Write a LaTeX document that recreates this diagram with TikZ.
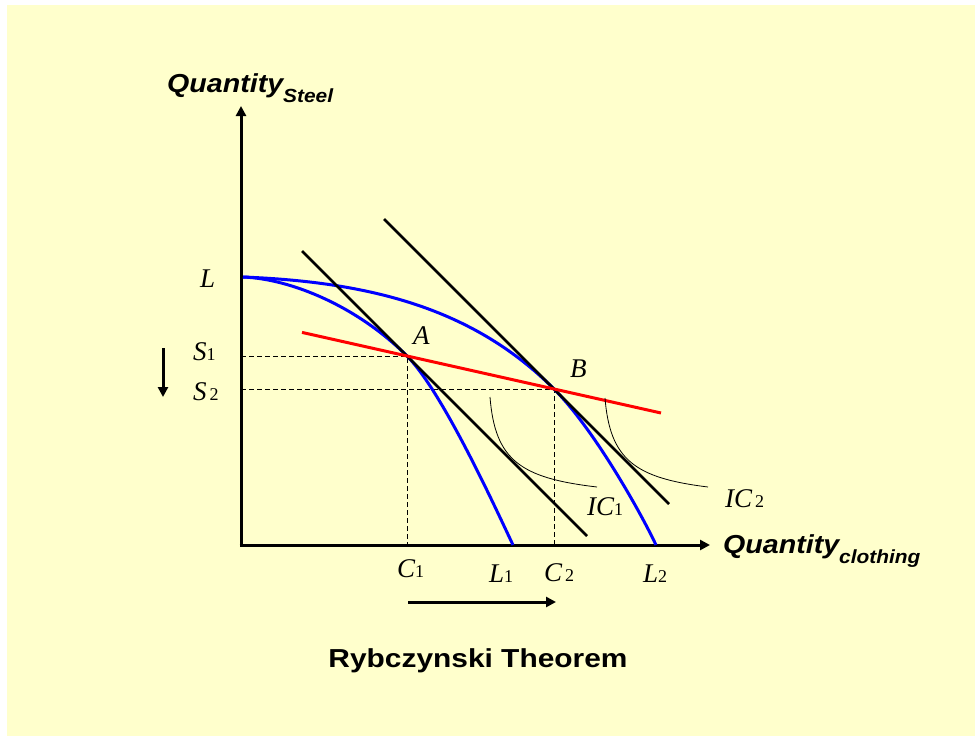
\documentclass[tikz,border=0pt]{standalone}
\usepackage{fontspec}
\setmainfont{Liberation Serif}
\setsansfont{Liberation Sans}
\usepackage{xcolor}
\usetikzlibrary{arrows.meta}
\definecolor{slidebg}{HTML}{FFFFCC}
\newcommand{\lblidx}[1]{{\upshape\fontsize{18}{18}\selectfont #1}}
\newcommand{\axtitle}[2]{\scalebox{1.1}[1]{{\fontsize{26}{26}\selectfont #1}\raisebox{-10pt}{\fontsize{19}{19}\selectfont #2}}}
\tikzset{
  axis/.style={draw=black, line width=3pt, -{Triangle[length=10pt,width=10pt]}},
  movearrow/.style={draw=black, line width=3pt, -{Triangle[length=10pt,width=10pt]}},
  ppf/.style={draw=blue, line width=3pt},
  budget/.style={draw=black, line width=2.6pt},
  price/.style={draw=red, line width=3pt},
  icurve/.style={draw=black, line width=0.8pt},
  guide/.style={draw=black, line width=0.9pt, dash pattern=on 5pt off 3pt},
  lbl/.style={font=\fontsize{27}{27}\selectfont\itshape, inner sep=0pt, anchor=base west},
  sanslbl/.style={font=\sffamily\bfseries\itshape, inner sep=0pt, anchor=base west}
}
\begin{document}
\begin{tikzpicture}[x=1pt, y=-1pt]
  % slide background
  \fill[white] (0,0) rectangle (975,736);
  \fill[slidebg] (7,5) rectangle (975,736);
  \useasboundingbox (0,0) rectangle (975,736);

  % key points
  \coordinate (O) at (241,545);
  \coordinate (Ytip) at (241,106);
  \coordinate (Xtip) at (710,545);
  \coordinate (L) at (243,277);
  \coordinate (A) at (407,356);
  \coordinate (B) at (554,389);
  \coordinate (L1) at (513,545);
  \coordinate (L2) at (656,545);

  % axes
  \draw[axis] (241,546.5) -- (Ytip);
  \draw[axis] (239.5,545) -- (Xtip);

  % dashed guides
  \draw[guide] (A -| O) -- (A) -- (A |- O);
  \draw[guide] (B -| O) -- (B) -- (B |- O);

  % production possibility frontiers
  \draw[ppf] (L) .. controls (292,279) and (358,307) .. (A)
             .. controls (442,391) and (495,507) .. (L1);
  \draw[ppf] (L) .. controls (370,282) and (473,308) .. (B)
             .. controls (594,429) and (641,513) .. (L2);

  % budget lines
  \coordinate (p0) at (302,251);
  \coordinate (p1) at (587,536);
  \coordinate (q0) at (384,219);
  \coordinate (q1) at (669,504);
  \draw[budget] (p0) -- (p1);
  \draw[budget] (q0) -- (q1);

  % Rybczynski line
  \coordinate (r0) at (302,332.4);
  \coordinate (r1) at (661,413);
  \draw[price] (r0) -- (r1);

  % indifference curves
  \coordinate (ic0) at (490,397);
  \coordinate (ic1) at (597,487);
  \coordinate (jc0) at (605,398);
  \coordinate (jc1) at (708,487);
  \draw[icurve] (ic0) .. controls (495,460) and (520,478) .. (ic1);
  \draw[icurve] (jc0) .. controls (610,460) and (635,478) .. (jc1);

  % shift arrows
  \coordinate (d0) at (163,348);
  \coordinate (d1) at (163,397);
  \coordinate (s0) at (408,602);
  \coordinate (s1) at (556,602);
  \draw[movearrow] (d0) -- (d1);
  \draw[movearrow] (s0) -- (s1);

  % labels
  \node[lbl] (lL) at (200,287) {L};
  \node[lbl] (lS1) at (193,360) {S\lblidx{1}};
  \node[lbl] (lS2) at (193,400) {S\kern3pt\lblidx{2}};
  \node[lbl] (lA) at (413,344) {A};
  \node[lbl] (lB) at (570,377) {B};
  \node[lbl] (lIC1) at (587,515) {IC\lblidx{1}};
  \node[lbl] (lIC2) at (725,507) {IC\kern3pt\lblidx{2}};
  \node[lbl] (lC1) at (397,577) {C\lblidx{1}};
  \node[lbl] (lL1) at (489,582) {L\lblidx{1}};
  \node[lbl] (lC2) at (544,581) {C\kern3pt\lblidx{2}};
  \node[lbl] (lL2) at (643,582) {L\lblidx{2}};

  \node[sanslbl] (ytitle) at (167,92) {\axtitle{Quantity}{Steel}};
  \node[sanslbl] (xtitle) at (723,553) {\axtitle{Quantity}{clothing}};
  \node[font=\sffamily\bfseries, inner sep=0pt, anchor=base] (title) at (478,667)
    {\scalebox{1.15}[1]{\fontsize{26}{26}\selectfont Rybczynski Theorem}};
\end{tikzpicture}
\end{document}
